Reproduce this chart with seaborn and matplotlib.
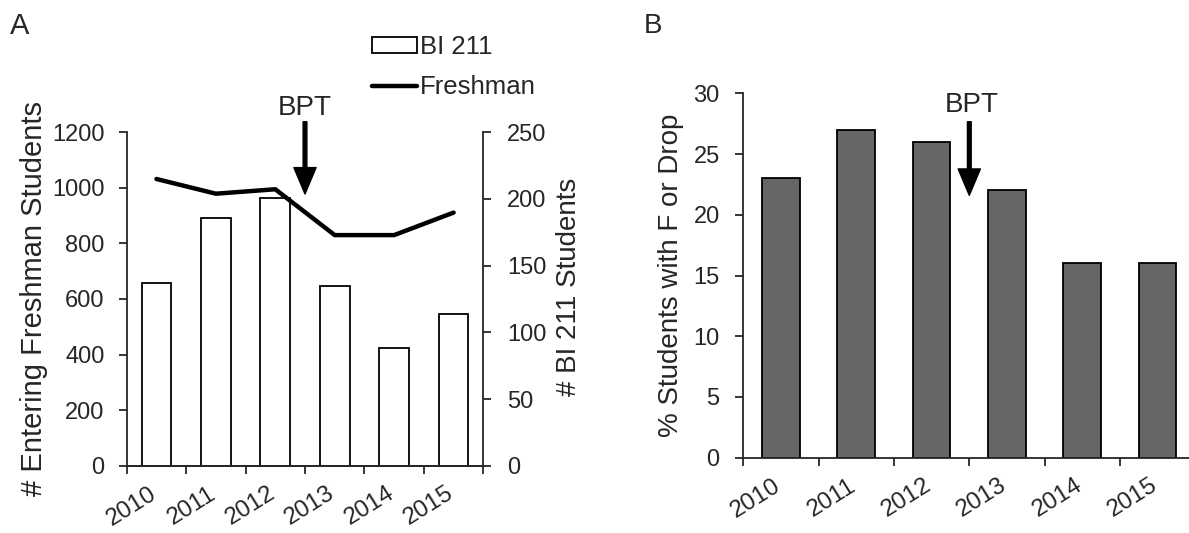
import numpy as np
import matplotlib
matplotlib.use("Agg")
import matplotlib.pyplot as plt
import matplotlib.transforms as mtransforms
from matplotlib.patches import Patch
from matplotlib.lines import Line2D
import seaborn as sns

# ---- data ----
years = ["2010", "2011", "2012", "2013", "2014", "2015"]
bi211_students = [137, 186, 201, 135, 88, 114]
freshman_students = [1032, 979, 995, 830, 830, 911]
fail_drop_pct = [23, 27, 26, 22, 16, 16]

sns.set_style("ticks")
plt.rcParams["font.family"] = ["Liberation Sans", "DejaVu Sans"]
plt.rcParams["axes.linewidth"] = 1.3

W, H = 1189, 533
fig = plt.figure(figsize=(W / 100, H / 100), dpi=100)

TICK_FS = 17
XTICK_FS = 17.5
XROT = 32
label_shift = mtransforms.ScaledTranslation(-8 / 100, 0, fig.dpi_scale_trans)

def px_axes(left, right, top, bottom):
    return [left / W, 1 - bottom / H, (right - left) / W, (bottom - top) / H]

def style_xaxis(ax, n, minor_end):
    ax.set_xticks(np.arange(n))
    ax.set_xticklabels(years, rotation=XROT, ha="right", va="top", rotation_mode="anchor")
    ax.set_xticks(np.arange(-0.5, minor_end), minor=True)
    ax.tick_params(axis="x", which="major", length=0, pad=12, labelsize=XTICK_FS)
    ax.tick_params(axis="x", which="minor", length=6, width=1.3, direction="out")
    for lab in ax.get_xticklabels():
        lab.set_transform(lab.get_transform() + label_shift)

# ---------------- Panel A ----------------
axA = fig.add_axes(px_axes(126.7, 483.3, 132.3, 465.7))
axA2 = axA.twinx()

sns.barplot(x=years, y=bi211_students, ax=axA2, color="white", edgecolor="black",
            linewidth=1.3, width=0.5, saturation=1)
sns.lineplot(x=np.arange(len(years)), y=freshman_students, ax=axA, color="black",
             linewidth=3.2)

axA.set_zorder(axA2.get_zorder() + 1)
axA.patch.set_visible(False)

axA.set_xlim(-0.5, len(years) - 0.5)
axA.set_ylim(0, 1200)
axA2.set_ylim(0, 250)
axA.set_yticks(np.arange(0, 1201, 200))
axA2.set_yticks(np.arange(0, 251, 50))

axA.spines["top"].set_visible(False)
axA.spines["right"].set_visible(False)
axA2.spines["top"].set_visible(False)
axA2.spines["left"].set_visible(False)

style_xaxis(axA, len(years), len(years))
axA.tick_params(axis="y", length=6, width=1.3, direction="out", pad=10, labelsize=TICK_FS)
axA2.tick_params(axis="y", length=6, width=1.3, direction="out", pad=11, labelsize=TICK_FS)

axA.set_xlabel("")
axA2.set_xlabel("")
axA.set_ylabel("# Entering Freshman Students", fontsize=21, labelpad=3)
axA2.set_ylabel("# BI 211 Students", fontsize=20)
axA2.yaxis.set_label_coords((556 - 126.7) / 356.6, 1 - (287 - 132.3) / 333.4)

axA.annotate("", xy=(2.5, 978), xytext=(2.5, 1238), annotation_clip=False,
             arrowprops=dict(facecolor="black", edgecolor="black", width=2.7,
                             headwidth=16, headlength=19, shrink=0))
axA.text(2.5, 1288, "BPT", ha="center", va="center", fontsize=20, clip_on=False)

handles = [Patch(facecolor="white", edgecolor="black", linewidth=1.3),
           Line2D([], [], color="black", linewidth=3.2)]
fig.legend(handles, ["BI 211", "Freshman"], loc="upper left",
           bbox_to_anchor=(372 / W, 1 - 35 / H), frameon=False, fontsize=18.5,
           handlelength=1.76, handleheight=0.55, handletextpad=0.1,
           labelspacing=0.62, borderpad=0, borderaxespad=0)

# ---------------- Panel B ----------------
axB = fig.add_axes(px_axes(743.3, 1189, 93.3, 457.7))
sns.barplot(x=years, y=fail_drop_pct, ax=axB, color="#666666", edgecolor="black",
            linewidth=1.3, width=0.5, saturation=1)
step_px = 75.3
axB.set_xlim(-0.5, len(years) - 0.5 - (1195.3 - 1189) / step_px)
axB.set_ylim(0, 30)
axB.set_yticks(np.arange(0, 31, 5))
axB.spines["top"].set_visible(False)
axB.spines["right"].set_visible(False)
style_xaxis(axB, len(years), len(years) - 0.5)
axB.tick_params(axis="y", length=6, width=1.3, direction="out", pad=11, labelsize=TICK_FS)
axB.set_xlabel("")
axB.set_ylabel("% Students with F or Drop", fontsize=20, labelpad=7)

axB.annotate("", xy=(2.5, 21.6), xytext=(2.5, 27.66), annotation_clip=False,
             arrowprops=dict(facecolor="black", edgecolor="black", width=2.7,
                             headwidth=16, headlength=19, shrink=0))
axB.text(2.53, 29.0, "BPT", ha="center", va="center", fontsize=20, clip_on=False)

fig.text(10 / W, 1 - 34 / H, "A", fontsize=21, va="baseline", ha="left")
fig.text(644 / W, 1 - 33 / H, "B", fontsize=20, va="baseline", ha="left")

fig.savefig("out.png", dpi=100)
